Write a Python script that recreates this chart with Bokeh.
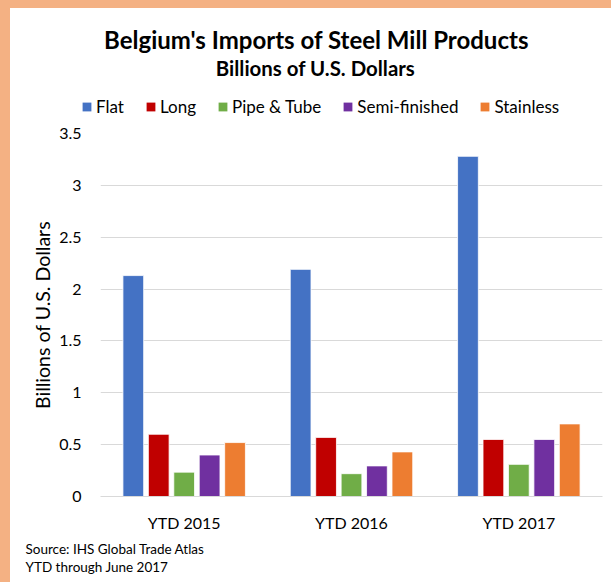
from bokeh.plotting import figure
from bokeh.models import (FactorRange, Range1d, FixedTicker, Legend, LegendItem,
                          Label, ColumnDataSource, Spacer)
from bokeh.transform import dodge
from bokeh.layouts import column, row
from bokeh.embed import file_html
from bokeh.resources import INLINE

# ---- data ----
years = ["YTD 2015", "YTD 2016", "YTD 2017"]
series = ["Flat", "Long", "Pipe & Tube", "Semi-finished", "Stainless"]
flat = [2.13, 2.19, 3.28]
long_ = [0.60, 0.57, 0.55]
pipe = [0.235, 0.22, 0.31]
semi = [0.40, 0.295, 0.55]
stainless = [0.52, 0.43, 0.70]
colors = ["#4472C4", "#C00000", "#70AD47", "#7030A0", "#ED7D31"]
y_ticks = [0, 0.5, 1, 1.5, 2, 2.5, 3, 3.5]
y_tick_labels = ["0", "0.5", "1", "1.5", "2", "2.5", "3", "3.5"]
title_text = "Belgium's Imports of Steel Mill Products"
subtitle_text = "Billions of U.S. Dollars"
source_lines = ["Source: IHS Global Trade Atlas", "YTD through June 2017"]

FONT = "Lato"
BORDER = "#F4B183"


def blank_fig(w, h):
    f = figure(width=w, height=h, x_range=Range1d(0, w), y_range=Range1d(h, 0),
               min_border=0, x_axis_location=None, y_axis_location=None, title=None,
               output_backend="svg", toolbar_location=None, tools="")
    f.outline_line_color = None
    f.grid.visible = False
    f.background_fill_color = "white"
    f.border_fill_color = "white"
    return f


# ---- header: title, subtitle, legend ----
HEADER_H = 113
header = blank_fig(601, HEADER_H)
header.add_layout(Label(x=306, y=HEADER_H - 31, y_units="screen", text=title_text,
                        text_align="center", text_baseline="middle", text_font=FONT,
                        text_font_style="bold", text_font_size="24px", text_color="#000000"))
header.add_layout(Label(x=305, y=HEADER_H - 59, y_units="screen", text=subtitle_text,
                        text_align="center", text_baseline="middle", text_font=FONT,
                        text_font_style="bold", text_font_size="20.4px", text_color="#000000"))
items = []
for i, name in enumerate(series):
    r = header.vbar(x=[0], top=[0], bottom=[0], width=0.001, fill_color=colors[i], line_color=None)
    items.append(LegendItem(label=name, renderers=[r]))
legend = Legend(items=items, orientation="horizontal", location=(71, 4),
                glyph_width=11, glyph_height=11, label_standoff=4, spacing=21,
                padding=0, margin=0, border_line_color=None, background_fill_alpha=0,
                label_text_font=FONT, label_text_font_size="17px", label_text_color="#000000",
                label_height=11)
header.add_layout(legend, "center")

# ---- main chart ----
src = ColumnDataSource(dict(year=years, s0=flat, s1=long_, s2=pipe, s3=semi, s4=stainless))

p = figure(x_range=FactorRange(*years), y_range=Range1d(0, 3.5),
           width=601, height=419, frame_width=502, frame_height=363,
           min_border_left=90, min_border_right=9, min_border_top=12, min_border_bottom=44,
           output_backend="svg", toolbar_location=None, tools="")
p.outline_line_color = None
p.background_fill_color = "white"
p.border_fill_color = "white"

step = 0.152
for i, name in enumerate(series):
    p.vbar(x=dodge("year", (i - 2) * step, range=p.x_range), top=f"s{i}", width=0.124,
           source=src, fill_color=colors[i], line_color="white", line_width=0.8)

p.xgrid.grid_line_color = None
p.ygrid.grid_line_color = "#D9D9D9"
p.ygrid.grid_line_width = 1
p.yaxis.ticker = FixedTicker(ticks=y_ticks)
p.yaxis.major_label_overrides = {t: l for t, l in zip(y_ticks, y_tick_labels)}
p.yaxis.axis_line_color = None
p.yaxis.major_tick_line_color = None
p.yaxis.minor_tick_line_color = None
p.yaxis.major_label_standoff = 13
p.yaxis.major_label_text_font = FONT
p.yaxis.major_label_text_font_size = "16px"
p.yaxis.major_label_text_color = "#000000"
p.yaxis.axis_label = subtitle_text
p.yaxis.axis_label_text_font = FONT
p.yaxis.axis_label_text_font_style = "normal"
p.yaxis.axis_label_text_font_size = "19.5px"
p.yaxis.axis_label_text_color = "#000000"
p.yaxis.axis_label_standoff = 2

p.xaxis.axis_line_color = "#D9D9D9"
p.xaxis.axis_line_width = 1
p.xaxis.major_tick_line_color = None
p.xaxis.minor_tick_line_color = None
p.xaxis.major_label_standoff = 10
p.xaxis.major_label_text_font = FONT
p.xaxis.major_label_text_font_size = "16px"
p.xaxis.major_label_text_color = "#000000"

# ---- footer: source notes ----
FOOTER_H = 42
footer = blank_fig(601, FOOTER_H)
for k, line in enumerate(source_lines):
    footer.add_layout(Label(x=15, y=FOOTER_H - 8.5 - 18 * k, y_units="screen", text=line,
                            text_align="left", text_baseline="middle", text_font=FONT,
                            text_font_size="13.5px", text_color="#000000"))

layout = column(
    Spacer(width=611, height=8, styles={"background-color": BORDER}),
    row(Spacer(width=10, height=HEADER_H, styles={"background-color": BORDER}), header, spacing=0),
    row(Spacer(width=10, height=419, styles={"background-color": BORDER}), p, spacing=0),
    row(Spacer(width=10, height=FOOTER_H, styles={"background-color": BORDER}), footer, spacing=0),
    spacing=0,
)

open("out.html", "w").write(file_html(layout, INLINE))
